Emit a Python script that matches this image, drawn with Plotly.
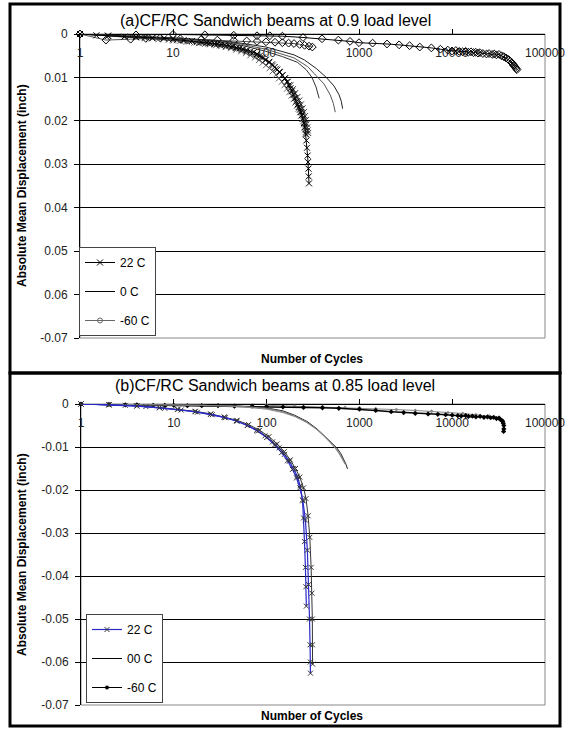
import plotly.graph_objects as go

# ---------------- Panel (a): 0.9 load level ----------------
a22_1_n = [1, 1.5, 2, 3, 4, 5, 6, 8, 10, 13, 16, 20, 23, 25, 28, 30, 33, 36, 40, 44, 48, 52, 57, 62, 68, 74, 80, 86, 93, 100, 108, 116, 124, 132, 141, 150, 159, 168, 176, 183, 190, 198, 205, 212, 219, 225, 232, 238, 244, 250, 256, 262, 267, 272, 276, 280, 283, 286, 288, 290]
a22_1_d = [0, -0.0003, -0.0004, -0.0006, -0.0007, -0.0008, -0.0009, -0.0010, -0.0012, -0.0014, -0.0016, -0.0019, -0.0020, -0.0021, -0.0022, -0.0023, -0.0024, -0.0025, -0.0027, -0.0029, -0.0031, -0.0033, -0.0035, -0.0037, -0.0040, -0.0042, -0.0046, -0.0050, -0.0054, -0.0059, -0.0064, -0.0070, -0.0076, -0.0082, -0.0088, -0.0095, -0.0102, -0.0110, -0.0118, -0.0125, -0.0132, -0.0140, -0.0148, -0.0155, -0.0162, -0.0168, -0.0174, -0.0180, -0.0187, -0.0195, -0.0205, -0.0215, -0.0230, -0.0245, -0.0262, -0.0280, -0.0295, -0.0310, -0.0328, -0.0344]
a22_2_n = [1, 2, 3, 5, 7, 10, 12, 14, 17, 19, 22, 25, 29, 33, 37, 42, 48, 54, 61, 68, 76, 84, 92, 100, 109, 118, 128, 138, 148, 158, 168, 178, 188, 198, 207, 216, 224, 232, 239, 246, 251, 256, 260, 264, 267, 270]
a22_2_d = [0, -0.0005, -0.0007, -0.0010, -0.0012, -0.0015, -0.0016, -0.0018, -0.0020, -0.0021, -0.0023, -0.0024, -0.0026, -0.0028, -0.0030, -0.0033, -0.0036, -0.0040, -0.0044, -0.0049, -0.0054, -0.0060, -0.0066, -0.0072, -0.0079, -0.0086, -0.0094, -0.0102, -0.0110, -0.0118, -0.0126, -0.0134, -0.0142, -0.0150, -0.0158, -0.0165, -0.0172, -0.0180, -0.0188, -0.0195, -0.0201, -0.0208, -0.0214, -0.0220, -0.0226, -0.0232]
a22_3_n = [1, 2, 4, 6, 9, 11, 13, 15, 18, 21, 24, 28, 32, 37, 42, 48, 55, 62, 70, 79, 88, 98, 108, 118, 128, 139, 150, 161, 172, 183, 195, 206, 218, 228, 238, 247, 255, 262, 268, 273, 278, 281, 284]
a22_3_d = [0, -0.0004, -0.0008, -0.0010, -0.0013, -0.0014, -0.0016, -0.0017, -0.0019, -0.0020, -0.0022, -0.0024, -0.0026, -0.0028, -0.0030, -0.0033, -0.0036, -0.0040, -0.0044, -0.0049, -0.0054, -0.0060, -0.0066, -0.0073, -0.0080, -0.0087, -0.0095, -0.0102, -0.0110, -0.0118, -0.0127, -0.0136, -0.0145, -0.0153, -0.0162, -0.0171, -0.0180, -0.0189, -0.0198, -0.0207, -0.0215, -0.0222, -0.0228]

a0_1_n = [1, 3, 10, 30, 60, 100, 150, 217, 270, 312, 345, 373]
a0_1_d = [0, -0.0004, -0.0010, -0.0018, -0.0028, -0.0040, -0.0052, -0.0065, -0.0082, -0.0100, -0.0122, -0.0148]
a0_2_n = [1, 3, 10, 30, 50, 100, 200, 280, 340, 420, 490, 530, 556]
a0_2_d = [0, -0.0004, -0.0010, -0.0017, -0.0022, -0.0035, -0.0055, -0.0075, -0.0094, -0.0115, -0.0140, -0.0160, -0.0180]
a0_3_n = [1, 3, 10, 30, 50, 100, 200, 260, 350, 445, 540, 610, 645, 667]
a0_3_d = [0, -0.0004, -0.0009, -0.0015, -0.0020, -0.0030, -0.0048, -0.0060, -0.0080, -0.0100, -0.0120, -0.0140, -0.0155, -0.0172]

a60_1_n = [1, 4, 10, 22, 45, 80, 110, 150, 250, 400, 600, 800, 1000, 1400, 2000, 2700, 3500, 4500, 6000, 7500, 9000, 10000, 11000, 12000, 13000, 14000, 15000, 16000, 17000, 18000, 19000, 20000, 21500, 23500, 25000, 27000, 28500, 30000, 32000, 34000, 36000, 38000, 40000, 41000, 42500, 44000, 45000, 46000, 47000, 48000, 49000, 50000]
a60_1_d = [0, -0.0002, -0.0001, -0.0002, -0.0003, -0.0004, -0.0004, -0.0005, -0.0008, -0.0011, -0.0014, -0.0017, -0.0020, -0.0021, -0.0023, -0.0025, -0.0027, -0.0030, -0.0032, -0.0035, -0.0037, -0.0039, -0.0038, -0.0040, -0.0041, -0.0040, -0.0042, -0.0041, -0.0043, -0.0042, -0.0044, -0.0043, -0.0045, -0.0046, -0.0045, -0.0047, -0.0046, -0.0048, -0.0047, -0.0050, -0.0052, -0.0055, -0.0058, -0.0060, -0.0063, -0.0066, -0.0069, -0.0072, -0.0074, -0.0077, -0.0080, -0.0082]
a60_2_n = [1, 1.9, 3.5, 5.1, 7.3, 12, 20, 30, 45, 62, 80, 100, 125, 150, 175, 200, 230, 260, 290, 315]
a60_2_d = [0, -0.0014, -0.0012, -0.0010, -0.0009, -0.0011, -0.0013, -0.0014, -0.0015, -0.0016, -0.0017, -0.0018, -0.0019, -0.0020, -0.0021, -0.0022, -0.0024, -0.0026, -0.0028, -0.0030]

# ---------------- Panel (b): 0.85 load level ----------------
b22_1_n = [1, 2, 3, 5, 8, 12, 18, 26, 36, 48, 62, 78, 96, 116, 136, 156, 176, 196, 214, 230, 244, 250, 256, 262, 265, 268]
b22_1_d = [0, -0.0001, -0.0003, -0.0006, -0.0010, -0.0014, -0.0019, -0.0025, -0.0032, -0.0040, -0.0050, -0.0061, -0.0074, -0.0088, -0.0102, -0.0117, -0.0133, -0.0150, -0.0168, -0.0190, -0.0223, -0.0265, -0.0320, -0.0380, -0.0425, -0.0470]
b22_2_n = [1, 2, 4, 7, 11, 17, 25, 35, 47, 62, 80, 100, 122, 145, 168, 190, 210, 228, 246, 262, 275, 284, 290, 294, 296, 297]
b22_2_d = [0, -0.0002, -0.0005, -0.0009, -0.0013, -0.0018, -0.0024, -0.0031, -0.0039, -0.0050, -0.0063, -0.0078, -0.0095, -0.0113, -0.0132, -0.0152, -0.0172, -0.0195, -0.0225, -0.0270, -0.0340, -0.0420, -0.0500, -0.0560, -0.0600, -0.0626]
b22_3_n = [1, 2, 4, 7, 11, 17, 25, 35, 48, 64, 84, 106, 130, 155, 180, 205, 228, 250, 266, 280, 292, 302, 308, 311, 312, 313]
b22_3_d = [0, -0.0002, -0.0004, -0.0008, -0.0012, -0.0017, -0.0023, -0.0030, -0.0038, -0.0048, -0.0061, -0.0076, -0.0093, -0.0111, -0.0130, -0.0150, -0.0170, -0.0195, -0.0220, -0.0260, -0.0310, -0.0380, -0.0440, -0.0500, -0.0560, -0.0605]

b0_1_n = [1, 5, 20, 50, 100, 150, 200, 275, 350, 433, 500, 570, 630, 670, 710, 745]
b0_1_d = [0, -0.0001, -0.0003, -0.0005, -0.0009, -0.0016, -0.0026, -0.0041, -0.0058, -0.0077, -0.0090, -0.0102, -0.0115, -0.0126, -0.0138, -0.0151]
b0_2_n = [1, 5, 20, 50, 100, 150, 200, 275, 350, 430, 500, 560, 620, 665, 700]
b0_2_d = [0, -0.0001, -0.0003, -0.0005, -0.0010, -0.0018, -0.0028, -0.0044, -0.0060, -0.0078, -0.0092, -0.0104, -0.0117, -0.0129, -0.0140]
b0_3_n = [1, 5, 20, 50, 100, 150, 200, 260, 330, 400, 470, 530, 590, 640, 680]
b0_3_d = [0, -0.0001, -0.0003, -0.0006, -0.0012, -0.0020, -0.0029, -0.0040, -0.0055, -0.0070, -0.0085, -0.0098, -0.0112, -0.0124, -0.0134]

b60_1_n = [1, 2, 3, 4, 6, 8, 10, 14, 20, 30, 45, 70, 100, 150, 250, 400, 600, 1000, 1500, 2200, 3000, 4000, 5500, 7000, 8500, 10000, 11500, 12500, 14000, 15000, 16500, 18000, 20000, 22000, 24000, 26000, 28000, 30000, 32000, 33000, 34000, 35000, 35500, 36000, 36000, 35800]
b60_1_d = [0, -0.0001, -0.0002, -0.0002, -0.0003, -0.0003, -0.0003, -0.0004, -0.0004, -0.0004, -0.0005, -0.0005, -0.0006, -0.0007, -0.0008, -0.0009, -0.0010, -0.0012, -0.0015, -0.0018, -0.0020, -0.0022, -0.0023, -0.0024, -0.0025, -0.0026, -0.0027, -0.0028, -0.0027, -0.0029, -0.0028, -0.0030, -0.0029, -0.0031, -0.0030, -0.0032, -0.0031, -0.0034, -0.0033, -0.0036, -0.0038, -0.0040, -0.0045, -0.0050, -0.0058, -0.0064]
b60_2_n = [100, 200, 400, 700, 1000, 1500, 2500, 4000, 6000, 9000, 13000, 18000, 25000, 32000]
b60_2_d = [-0.0003, -0.0005, -0.0006, -0.0008, -0.0009, -0.0011, -0.0013, -0.0015, -0.0017, -0.0020, -0.0022, -0.0025, -0.0028, -0.0031]

x_tickvals = [1, 10, 100, 1000, 10000, 100000]
x_ticktext = ["1", "10", "100", "1000", "10000", "100000"]
y_tickvals = [0, -0.01, -0.02, -0.03, -0.04, -0.05, -0.06, -0.07]
ya_ticktext = ["0", "0.01", "0.02", "0.03", "0.04", "0.05", "0.06", "-0.07"]
yb_ticktext = ["0", "-0.01", "-0.02", "-0.03", "-0.04", "-0.05", "-0.06", "-0.07"]

title_a = "(a)CF/RC Sandwich beams at 0.9 load level"
title_b = "(b)CF/RC Sandwich beams at 0.85 load level"
x_title = "Number of Cycles"
y_title = "Absolute Mean Displacement (inch)"

W, H = 568, 736
FONT = "Arial, 'Liberation Sans', sans-serif"


def fx(p):
    return p / W


def fy(p):
    return 1 - p / H


fig = go.Figure()


def add(n, d, panel, name, group, show, line, marker=None, mode="lines"):
    kw = dict(x=n, y=d, mode=mode, name=name, legendgroup=panel + group,
              showlegend=show, line=line, cliponaxis=False)
    if marker is not None:
        kw["marker"] = marker
    if panel == "a":
        kw.update(xaxis="x", yaxis="y", legend="legend")
    else:
        kw.update(xaxis="x2", yaxis="y2", legend="legend2")
    fig.add_trace(go.Scatter(**kw))


xm = lambda c, s=6: dict(symbol="x-thin", size=s, line=dict(width=1, color=c), color=c)
dm = dict(symbol="diamond-open", size=6, color="black", line=dict(width=1, color="black"))

# panel a
add(a60_1_n, a60_1_d, "a", "-60 C", "c", False, dict(color="black", width=1), dm, "lines+markers")
add(a60_2_n, a60_2_d, "a", "-60 C", "c", False, dict(color="#555", width=1), dm, "lines+markers")
add(a0_1_n, a0_1_d, "a", "0 C", "b", False, dict(color="#333", width=1))
add(a0_2_n, a0_2_d, "a", "0 C", "b", False, dict(color="#555", width=1))
add(a0_3_n, a0_3_d, "a", "0 C", "b", False, dict(color="#222", width=1))
add(a22_2_n, a22_2_d, "a", "22 C", "a", False, dict(color="#666", width=1), xm("#666"), "lines+markers")
add(a22_3_n, a22_3_d, "a", "22 C", "a", False, dict(color="#333", width=1), xm("#333"), "lines+markers")
add(a22_1_n, a22_1_d, "a", "22 C", "a", True, dict(color="black", width=1), xm("black"), "lines+markers")
# legend-only entries for a (ordering)
add([None], [None], "a", "0 C", "b", True, dict(color="black", width=1))
add([None], [None], "a", "-60 C", "c", True, dict(color="#666", width=1),
    dict(symbol="circle-open", size=5, color="#666", line=dict(width=1, color="#666")), "lines+markers")

# panel b
bm = dict(symbol="diamond", size=4, color="black")
add(b60_2_n, b60_2_d, "b", "-60 C", "c", False, dict(color="#888", width=1), dict(symbol="diamond", size=3, color="#888"), "lines+markers")
add(b60_1_n, b60_1_d, "b", "-60 C", "c", False, dict(color="black", width=1.5), bm, "lines+markers")
add(b0_1_n, b0_1_d, "b", "00 C", "b", False, dict(color="#222", width=1))
add(b0_2_n, b0_2_d, "b", "00 C", "b", False, dict(color="#777", width=1))
add(b0_3_n, b0_3_d, "b", "00 C", "b", False, dict(color="#888", width=1))
add(b22_3_n, b22_3_d, "b", "22 C", "a", False, dict(color="#333", width=1), xm("#333", 5), "lines+markers")
add(b22_1_n, b22_1_d, "b", "22 C", "a", False, dict(color="#2a2ac8", width=1.2), xm("#333", 5), "lines+markers")
add(b22_2_n, b22_2_d, "b", "22 C", "a", True, dict(color="#2a2ac8", width=1.2), xm("#333", 5), "lines+markers")
add([None], [None], "b", "00 C", "b", True, dict(color="black", width=1))
add([None], [None], "b", "-60 C", "c", True, dict(color="black", width=1),
    dict(symbol="circle", size=4, color="black"), "lines+markers")

tickfont = dict(family=FONT, size=12, color="#222")
xcommon = dict(type="log", range=[0, 5], tickmode="array", tickvals=x_tickvals, ticktext=x_ticktext,
               side="bottom", anchor="free", ticks="inside", ticklen=5, tickcolor="black",
               showline=True, linecolor="black", linewidth=1, showgrid=False, zeroline=False,
               tickfont=tickfont, layer="below traces", ticklabelstandoff=8)
ycommon = dict(range=[-0.07, 0], tickmode="array", tickvals=y_tickvals, ticks="outside", ticklen=5,
               tickcolor="black", showline=True, linecolor="black", linewidth=1, showgrid=True,
               gridcolor="black", gridwidth=1, zeroline=False, tickfont=tickfont,
               layer="below traces", ticklabelstandoff=4)

fig.update_layout(
    width=W, height=H, margin=dict(l=0, r=0, t=0, b=0),
    paper_bgcolor="white", plot_bgcolor="white", template="none",
    font=dict(family=FONT, size=12, color="black"),
    xaxis=dict(domain=[fx(80), fx(545)], position=fy(34), **xcommon),
    yaxis=dict(domain=[fy(338), fy(34)], anchor="x", ticktext=ya_ticktext, **ycommon),
    xaxis2=dict(domain=[fx(81), fx(545)], position=fy(404), **xcommon),
    yaxis2=dict(domain=[fy(705), fy(404)], anchor="x2", ticktext=yb_ticktext, **ycommon),
    legend=dict(x=fx(79), y=fy(247), xanchor="left", yanchor="top", bgcolor="white",
                bordercolor="#444", borderwidth=1, traceorder="grouped", tracegroupgap=10,
                font=dict(family=FONT, size=12, color="black"), itemwidth=30),
    legend2=dict(x=fx(86), y=fy(614), xanchor="left", yanchor="top", bgcolor="white",
                 bordercolor="#444", borderwidth=1, traceorder="grouped", tracegroupgap=10,
                 font=dict(family=FONT, size=12, color="black"), itemwidth=30),
    showlegend=True,
)

shapes = [
    dict(type="rect", xref="paper", yref="paper", x0=fx(10), x1=fx(560), y0=fy(373), y1=fy(4),
         line=dict(color="black", width=3)),
    dict(type="rect", xref="paper", yref="paper", x0=fx(10), x1=fx(560), y0=fy(726), y1=fy(373),
         line=dict(color="black", width=3)),
    dict(type="rect", xref="x domain", yref="y domain", x0=0, x1=1, y0=0, y1=1,
         line=dict(color="#888", width=1), layer="below"),
    dict(type="rect", xref="x2 domain", yref="y2 domain", x0=0, x1=1, y0=0, y1=1,
         line=dict(color="#888", width=1), layer="below"),
]
fig.update_layout(shapes=shapes)

ann = [
    dict(text=title_a, x=fx(275), y=fy(20), font=dict(size=16)),
    dict(text=title_b, x=fx(275), y=fy(385), font=dict(size=16)),
    dict(text="<b>" + x_title + "</b>", x=fx(312), y=fy(359), font=dict(size=12)),
    dict(text="<b>" + x_title + "</b>", x=fx(312), y=fy(716), font=dict(size=12)),
    dict(text="<b>" + y_title + "</b>", x=fx(22), y=fy(186), textangle=-90, font=dict(size=12)),
    dict(text="<b>" + y_title + "</b>", x=fx(22), y=fy(555), textangle=-90, font=dict(size=12)),
]
for a in ann:
    a.update(xref="paper", yref="paper", showarrow=False, xanchor="center", yanchor="middle")
    a["font"].update(family=FONT, color="black")
fig.update_layout(annotations=ann)

fig.write_html("out.html")
